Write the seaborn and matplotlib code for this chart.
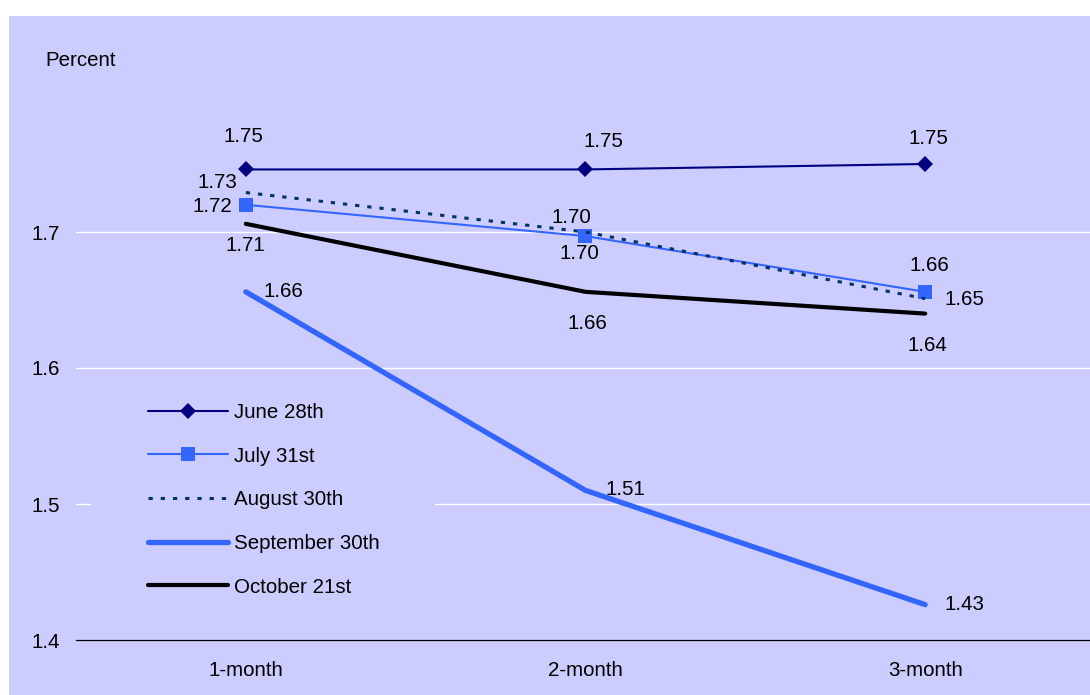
import matplotlib
matplotlib.use("Agg")
import matplotlib.pyplot as plt
import seaborn as sns
from matplotlib.patches import Rectangle

# ---- data ----
categories = ["1-month", "2-month", "3-month"]
series_names = ["June 28th", "July 31st", "August 30th", "September 30th", "October 21st"]
june = [1.746, 1.746, 1.750]
july = [1.720, 1.697, 1.656]
august = [1.729, 1.700, 1.651]
september = [1.656, 1.510, 1.426]
october = [1.706, 1.656, 1.640]
ytick_values = [1.4, 1.5, 1.6, 1.7]

# ---- styles ----
BG = "#CCCCFF"
styles = [
    dict(color="#000080", lw=1.5, marker="D", markersize=8.5, markeredgewidth=0, linestyle="-"),
    dict(color="#3366FF", lw=1.5, marker="s", markersize=9.5, markeredgewidth=0, linestyle="-"),
    dict(color="#003366", lw=2.2, marker=None, linestyle=(0, (1.4, 2.6))),
    dict(color="#3366FF", lw=3.8, marker=None, linestyle="-", solid_capstyle="round"),
    dict(color="#000000", lw=3.0, marker=None, linestyle="-", solid_capstyle="round"),
]
# label offsets in pixels (dx, dy) per series per category
label_offsets = [
    [(-2, 33), (18, 28), (3, 26)],
    [(-33, -2), (-6, -17), (4, 26)],
    [(-28, 10), (-14, 15), (39, -1)],
    [(38, 0), (40, 1), (39, 0)],
    [(0, -22), (2, -32), (2, -32)],
]

sns.set_style("white")
plt.rcParams["font.family"] = ["Liberation Sans", "DejaVu Sans"]
plt.rcParams["text.color"] = "black"
plt.rcParams["xtick.color"] = "black"
plt.rcParams["ytick.color"] = "black"
plt.rcParams["axes.labelcolor"] = "black"
FS = 14.8

fig = plt.figure(figsize=(10.9, 6.95), dpi=100)
fig.patch.set_facecolor("white")
fig.add_artist(Rectangle((9 / 1090, 0), 1.0, (695 - 16) / 695, transform=fig.transFigure,
                         facecolor=BG, edgecolor="none", zorder=-10))

ax = fig.add_axes([76 / 1090, 1 - 640 / 695, 1019 / 1090, (640 - 96) / 695])
ax.set_facecolor(BG)

positions = list(range(len(categories)))
all_series = [june, july, august, september, october]

for name, vals, st in zip(series_names, all_series, styles):
    sns.lineplot(x=positions, y=vals, ax=ax, label=name, **st)

for vals, offs in zip(all_series, label_offsets):
    for xi, v, (dx, dy) in zip(positions, vals, offs):
        ax.annotate(f"{v:.2f}", (xi, v), xytext=(dx, dy), textcoords="offset pixels",
                    ha="center", va="center", fontsize=FS, color="black", zorder=6)

ax.set_xlim(-0.5, 2.5)
ax.set_ylim(1.4, 1.8)
ax.set_yticks(ytick_values)
ax.set_yticklabels([f"{t:g}" for t in ytick_values])
ax.set_xticks(positions)
ax.set_xticklabels(categories)
ax.set_xticks([p - 0.5 for p in positions] + [positions[-1] + 0.5], minor=True)
ax.tick_params(axis="x", which="major", length=0, pad=15, labelsize=FS, labelcolor="black")
ax.tick_params(axis="x", which="minor", length=5, width=0.8, direction="out", color="black")
ax.tick_params(axis="y", length=0, pad=11.5, labelsize=FS, labelcolor="black")
ax.set_xlabel("")
ax.set_ylabel("")
ax.set_axisbelow(True)
ax.yaxis.grid(True, color="white", lw=1)
ax.xaxis.grid(False)
for s in ["top", "right", "left"]:
    ax.spines[s].set_visible(False)
ax.spines["bottom"].set_color("black")
ax.spines["bottom"].set_linewidth(0.9)

# legend backdrop hiding gridline
ax.add_patch(Rectangle((91 / 1090, 1 - 612 / 695), (435 - 91) / 1090, (612 - 385) / 695,
                       transform=fig.transFigure, facecolor=BG, edgecolor="none", zorder=1))

handles, labels = ax.get_legend_handles_labels()
ax.legend(handles, labels, loc="upper left", bbox_to_anchor=(148 / 1090, 1 - 403 / 695),
          bbox_transform=fig.transFigure, frameon=False, borderpad=0, borderaxespad=0,
          handlelength=3.9, handletextpad=0.3, labelspacing=1.2, fontsize=FS,
          labelcolor="black")

fig.text(45 / 1090, 1 - 60 / 695, "Percent", ha="left", va="center", fontsize=FS, color="black")

fig.savefig("out.png", dpi=100, facecolor=fig.get_facecolor())
